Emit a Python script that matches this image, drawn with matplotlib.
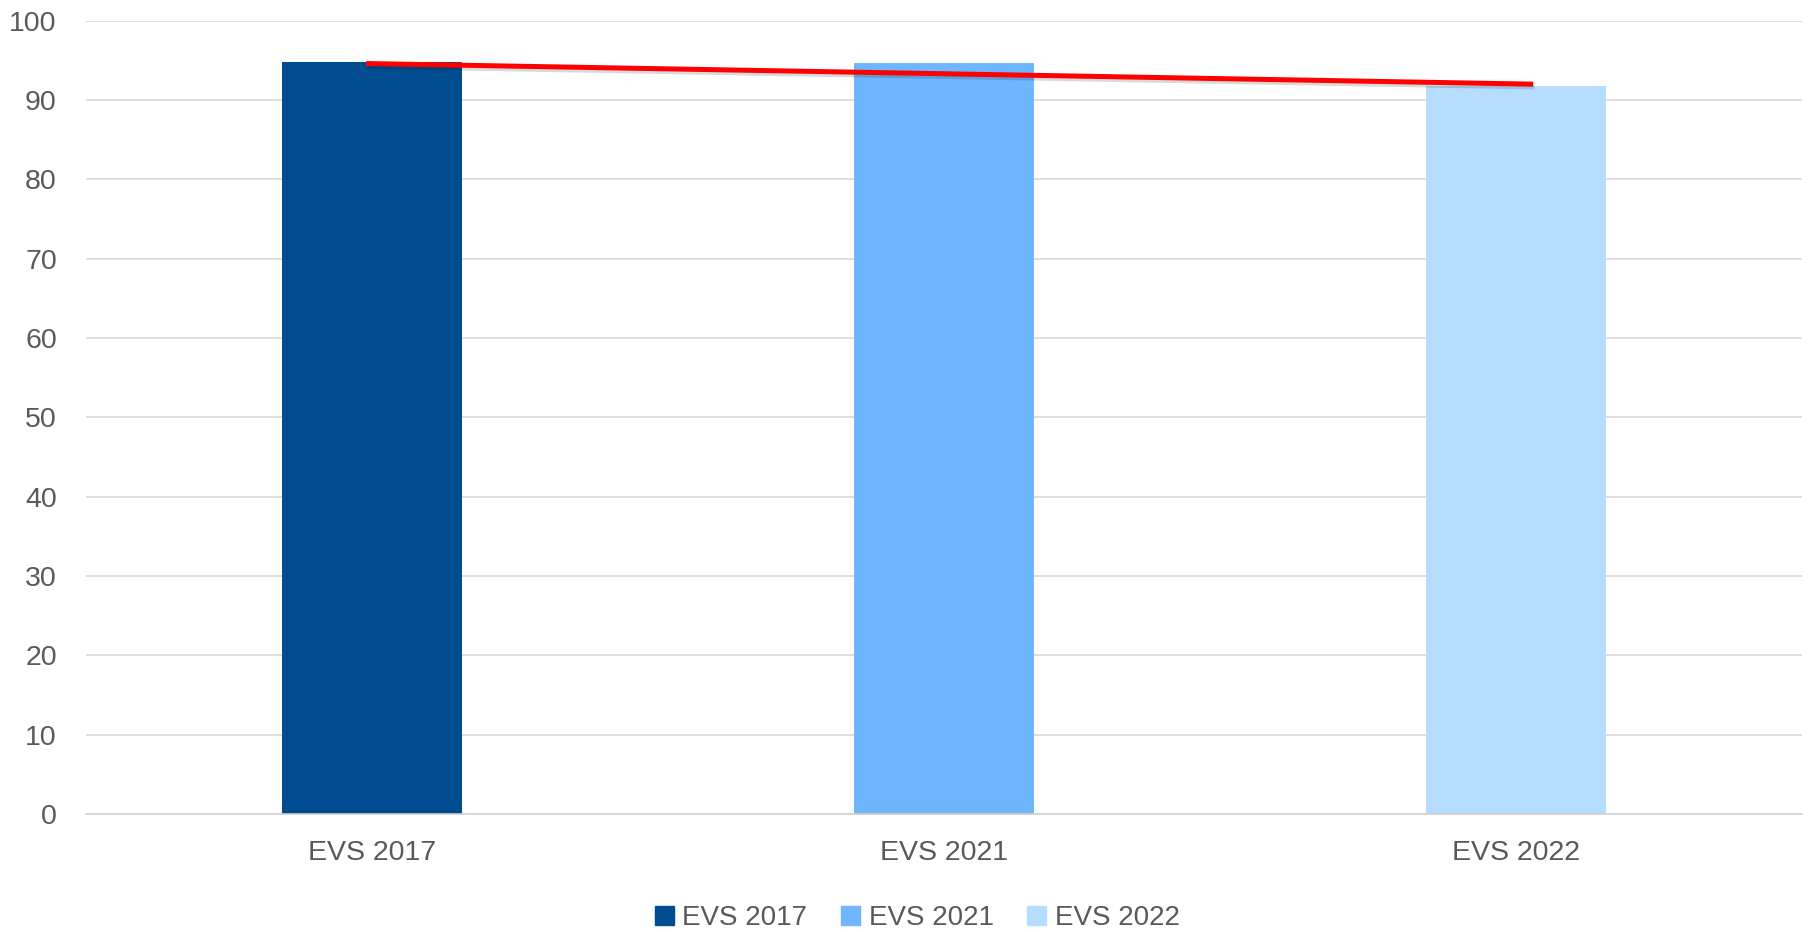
import matplotlib
matplotlib.use("Agg")
import matplotlib.pyplot as plt
import matplotlib.patheffects as pe
from matplotlib.patches import Patch

categories = ["EVS 2017", "EVS 2021", "EVS 2022"]
values = [94.8, 94.7, 91.8]
colors = ["#004C91", "#6EB7FF", "#B6DCFF"]
trend_x = [-0.01, 2.03]
trend_y = [94.6, 92.0]

plt.rcParams['font.family'] = ['Liberation Sans', 'DejaVu Sans']
text_color = "#595959"

fig = plt.figure(figsize=(18.14, 9.32), dpi=100)
ax = fig.add_axes([0.0474, 0.1266, 0.946, 0.8512])

x = range(len(categories))
ax.bar(x, values, width=0.315, color=colors, zorder=2)
ax.plot(trend_x, trend_y, color="#FF0000", linewidth=3.6, zorder=3,
        solid_capstyle="butt",
        path_effects=[pe.SimpleLineShadow(offset=(1, -2), shadow_color="black", alpha=0.15),
                      pe.Normal()])

ax.set_xlim(-0.5, 2.5)
ax.set_ylim(0, 100)
ax.set_yticks(range(0, 101, 10))
ax.set_xticks(list(x))
ax.set_xticklabels(categories)
ax.grid(axis="y", color="#D9D9D9", linewidth=1.2, zorder=0)
for s in ["top", "right", "left"]:
    ax.spines[s].set_visible(False)
ax.spines["bottom"].set_color("#D0D0D0")
ax.spines["bottom"].set_linewidth(1.2)
ax.tick_params(axis="both", length=0, labelsize=20.5, labelcolor=text_color)
ax.tick_params(axis="y", pad=21)
ax.tick_params(axis="x", pad=19)

handles = [Patch(color=c, label=l) for c, l in zip(colors, categories)]
fig.legend(handles=handles, loc="center", bbox_to_anchor=(0.5056, 0.015), ncol=3,
           frameon=False, fontsize=20, labelcolor=text_color,
           handlelength=0.7, handleheight=0.7, handletextpad=0.3, columnspacing=1.2)

fig.savefig("out.png", dpi=100)
